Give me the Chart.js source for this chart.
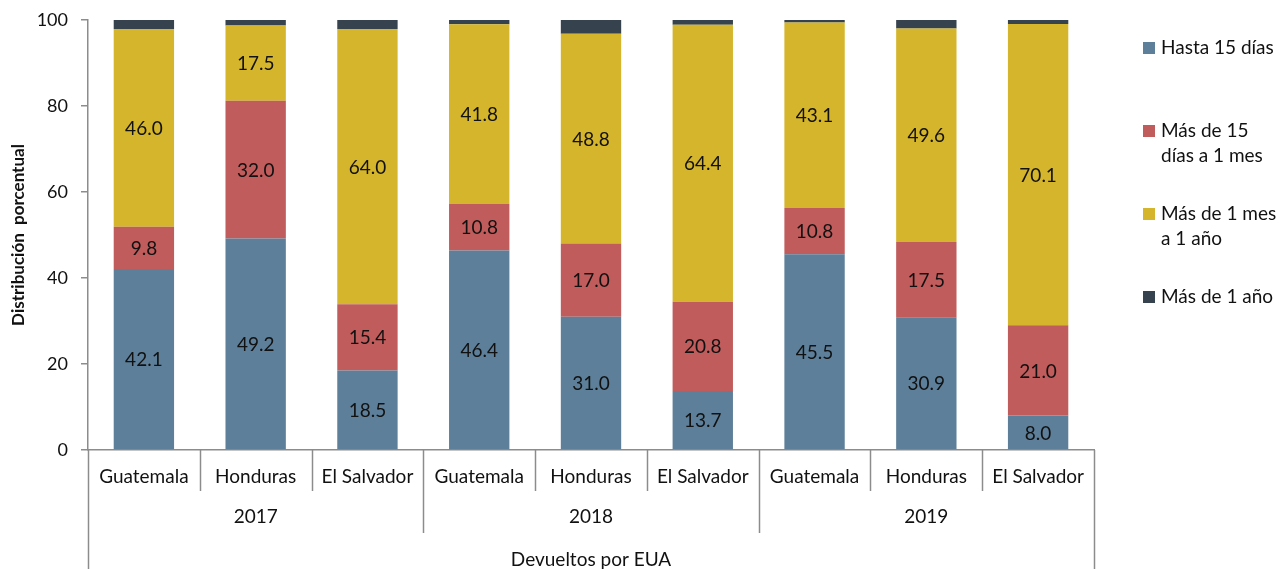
<!DOCTYPE html>
<html lang="es">
<head>
<meta charset="utf-8">
<title>Distribución porcentual - Devueltos por EUA</title>
<script src="https://cdn.jsdelivr.net/npm/chart.js@4.4.1/dist/chart.umd.min.js"></script>
<style>
  html, body { margin: 0; padding: 0; background: #fff; }
  #wrap { width: 1283px; height: 569px; }
</style>
</head>
<body>
<div id="wrap"><canvas id="c" width="1283" height="569"></canvas></div>
<script>
// Categories: country within each year
const countries = ['Guatemala', 'Honduras', 'El Salvador', 'Guatemala', 'Honduras', 'El Salvador', 'Guatemala', 'Honduras', 'El Salvador'];
const years = ['2017', '2018', '2019'];
const countriesPerYear = 3;
const groupTitle = 'Devueltos por EUA';

// Series (percent of returned people by time in the US)
const hasta15dias   = [42.1, 49.2, 18.5, 46.4, 31.0, 13.7, 45.5, 30.9, 8.0];
const mas15dias1mes = [9.8, 32.0, 15.4, 10.8, 17.0, 20.8, 10.8, 17.5, 21.0];
const mas1mes1anio  = [46.0, 17.5, 64.0, 41.8, 48.8, 64.4, 43.1, 49.6, 70.1];
const mas1anio      = [2.1, 1.3, 2.1, 1.0, 3.2, 1.1, 0.6, 2.0, 0.9];

const seriesNames = [['Hasta 15 días'], ['Más de 15', 'días a 1 mes'], ['Más de 1 mes', 'a 1 año'], ['Más de 1 año']];
const yTicks = [0, 20, 40, 60, 80, 100];

const FONT = 'Lato, "Open Sans", "Noto Sans", sans-serif';
const AXIS_GRAY = '#8c8c8c';
const TEXT = '#111';

// Segment values written inside the bars (last series has no labels)
const valueLabels = {
  id: 'valueLabels',
  afterDatasetsDraw(chart) {
    const ctx = chart.ctx;
    ctx.save();
    ctx.font = '19px ' + FONT;
    ctx.fillStyle = TEXT;
    ctx.textAlign = 'center';
    ctx.textBaseline = 'middle';
    chart.data.datasets.forEach((ds, di) => {
      if (!ds.showValues) return;
      chart.getDatasetMeta(di).data.forEach((bar, i) => {
        const cy = (bar.y + bar.base) / 2;
        ctx.fillText(ds.data[i].toFixed(1), bar.x, cy + 1);
      });
    });
    ctx.restore();
  }
};

// Multi-level category axis: separators, year row and outer title
const groupAxis = {
  id: 'groupAxis',
  afterDraw(chart) {
    const ctx = chart.ctx;
    const xs = chart.scales.x;
    const area = chart.chartArea;
    const n = chart.data.labels.length;
    const y0 = area.bottom;
    const boundary = (k) => {
      if (k === 0) return area.left;
      if (k === n) return area.right;
      return (xs.getPixelForValue(k - 1) + xs.getPixelForValue(k)) / 2;
    };
    ctx.save();
    ctx.strokeStyle = AXIS_GRAY;
    ctx.lineWidth = 1.5;
    for (let k = 0; k <= n; k++) {
      let yEnd = y0 + 41;
      if (k % countriesPerYear === 0) yEnd = y0 + 83;
      if (k === 0 || k === n) yEnd = chart.height;
      const x = Math.round(boundary(k)) + 0.5;
      ctx.beginPath();
      ctx.moveTo(x, y0);
      ctx.lineTo(x, yEnd);
      ctx.stroke();
    }
    ctx.fillStyle = TEXT;
    ctx.font = '19px ' + FONT;
    ctx.textAlign = 'center';
    ctx.textBaseline = 'middle';
    years.forEach((yr, g) => {
      const a = boundary(g * countriesPerYear);
      const b = boundary((g + 1) * countriesPerYear);
      ctx.fillText(yr, (a + b) / 2, y0 + 67);
    });
    ctx.fillText(groupTitle, (area.left + area.right) / 2, y0 + 110);
    ctx.restore();
  }
};

// Legend on the right side
const sideLegend = {
  id: 'sideLegend',
  afterDraw(chart) {
    const ctx = chart.ctx;
    const rows = [48, 131, 214, 297];
    ctx.save();
    ctx.font = '19px ' + FONT;
    ctx.textBaseline = 'middle';
    ctx.textAlign = 'left';
    chart.data.datasets.forEach((ds, di) => {
      const y = rows[di];
      ctx.fillStyle = ds.backgroundColor;
      ctx.fillRect(1143, y - 6, 12, 12);
      ctx.fillStyle = TEXT;
      seriesNames[di].forEach((line, li) => {
        ctx.fillText(line, 1161, y + li * 25);
      });
    });
    ctx.restore();
  }
};

const chart = new Chart(document.getElementById('c'), {
  type: 'bar',
  data: {
    labels: countries,
    datasets: [
      { label: seriesNames[0].join(' '), data: hasta15dias,   backgroundColor: '#5d7f99', showValues: true },
      { label: seriesNames[1].join(' '), data: mas15dias1mes, backgroundColor: '#c05c5b', showValues: true },
      { label: seriesNames[2].join(' '), data: mas1mes1anio,  backgroundColor: '#d5b52b', showValues: true },
      { label: seriesNames[3].join(' '), data: mas1anio,      backgroundColor: '#36434e', showValues: false }
    ].map(d => Object.assign(d, {
      categoryPercentage: 1,
      barPercentage: 0.54,
      borderWidth: 0
    }))
  },
  options: {
    responsive: false,
    animation: false,
    devicePixelRatio: 1,
    layout: { padding: { top: 16, right: 189, left: 0, bottom: 0 } },
    plugins: {
      legend: { display: false },
      tooltip: { enabled: false }
    },
    scales: {
      x: {
        stacked: true,
        grid: { display: false, drawTicks: false },
        border: { display: true, color: AXIS_GRAY, width: 1.5 },
        ticks: {
          color: TEXT,
          font: { family: FONT, size: 19 },
          padding: 15,
          maxRotation: 0,
          autoSkip: false
        },
        afterFit(scale) { scale.height = 119; }
      },
      y: {
        stacked: true,
        min: 0,
        max: 100,
        afterBuildTicks(scale) { scale.ticks = yTicks.map(v => ({ value: v })); },
        grid: {
          drawOnChartArea: false,
          drawTicks: true,
          tickLength: 7,
          color: AXIS_GRAY,
          lineWidth: 1.5
        },
        border: { display: true, color: AXIS_GRAY, width: 1.5 },
        ticks: {
          color: TEXT,
          font: { family: FONT, size: 18, lineHeight: 0.78 },
          padding: 13
        },
        title: {
          display: true,
          text: 'Distribución  porcentual',
          color: TEXT,
          font: { family: FONT, size: 17, weight: 'bold' },
          padding: { top: 8, bottom: 4 }
        },
        afterFit(scale) { scale.width = 88; }
      }
    }
  },
  plugins: [valueLabels, groupAxis, sideLegend]
});
</script>
</body>
</html>
